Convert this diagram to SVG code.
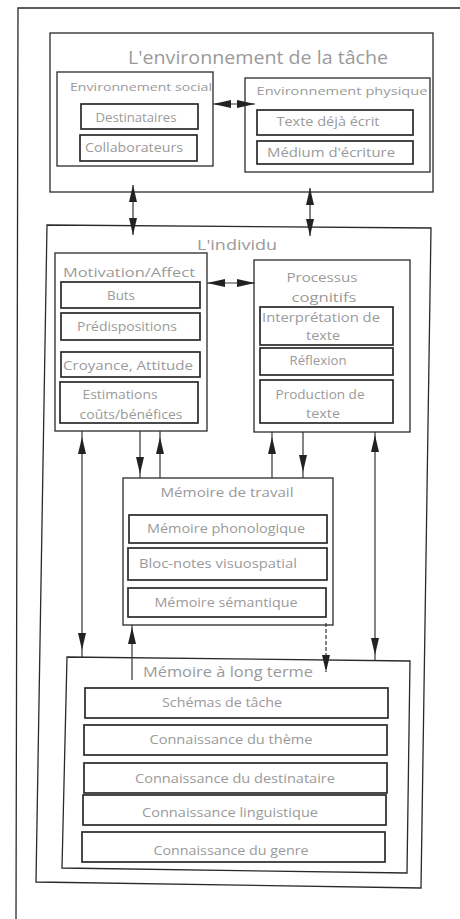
<svg xmlns="http://www.w3.org/2000/svg" xmlns:xlink="http://www.w3.org/1999/xlink" width="460" height="919" viewBox="0 0 460 919">
<style>
.box{fill:none;stroke:#2a2a2a;stroke-width:1.3}
.inner{fill:none;stroke:#2a2a2a;stroke-width:1.7}
.t{font-family:"Open Sans","Liberation Sans",sans-serif;fill:#9a9a9a;text-anchor:middle;font-size:12px}
.s11{font-size:11px}.s13{font-size:13px}.s14{font-size:14px}.s15{font-size:15px}.s18{font-size:18px}
.conn{stroke:#333;stroke-width:1.2;fill:none}
.dash{stroke-dasharray:4 2}
.head{fill:#222}
</style>
<defs>
<path id="up" d="M0,0 L4,17 L-4,17 Z"/>
<path id="dn" d="M0,0 L4,-17 L-4,-17 Z"/>
<path id="lt" d="M0,0 L18,-4 L18,4 Z"/>
<path id="rt" d="M0,0 L-18,-4 L-18,4 Z"/>
</defs>
<rect x="0" y="0" width="460" height="919" fill="#fff"/>
<path d="M460,8 L18,8 L16,919" class="box" stroke-width="1.6"/>

<g id="env-tache">
<rect x="50" y="33" width="383" height="159" class="box"/>
<text x="258" y="64" class="t s18" textLength="260" lengthAdjust="spacingAndGlyphs">L'environnement de la tâche</text>
</g>
<g id="env-social">
<rect x="57" y="72" width="156" height="94" class="box"/>
<text x="141" y="91" class="t s11" textLength="142" lengthAdjust="spacingAndGlyphs">Environnement social</text>
</g>
<g id="destinataires">
<rect x="81" y="104" width="117" height="25" class="inner"/>
<text x="136" y="122" class="t" textLength="81" lengthAdjust="spacingAndGlyphs">Destinataires</text>
</g>
<g id="collaborateurs">
<rect x="80" y="135" width="117" height="26" class="inner"/>
<text x="134" y="152" class="t" textLength="98" lengthAdjust="spacingAndGlyphs">Collaborateurs</text>
</g>
<g id="env-physique">
<rect x="245" y="78" width="185" height="94" class="box"/>
<text x="342" y="95" class="t s11" textLength="171" lengthAdjust="spacingAndGlyphs">Environnement physique</text>
</g>
<g id="texte-deja-ecrit">
<rect x="257" y="110" width="156" height="25" class="inner"/>
<text x="328" y="126" class="t" textLength="103" lengthAdjust="spacingAndGlyphs">Texte déjà écrit</text>
</g>
<g id="medium">
<rect x="257" y="141" width="156" height="23" class="inner"/>
<text x="331" y="157" class="t" textLength="128" lengthAdjust="spacingAndGlyphs">Médium d'écriture</text>
</g>

<g id="individu">
<path d="M47,225 L431,228 L421,888 L36,882 Z" class="box"/>
<text x="237" y="250" class="t s15" textLength="80" lengthAdjust="spacingAndGlyphs">L'individu</text>
</g>
<g id="motivation">
<rect x="55" y="253" width="152" height="178" class="box"/>
<text x="129" y="277" class="t s13" textLength="132" lengthAdjust="spacingAndGlyphs">Motivation/Affect</text>
</g>
<g id="buts">
<rect x="61" y="282" width="139" height="26" class="inner"/>
<text x="121" y="300" class="t" textLength="28" lengthAdjust="spacingAndGlyphs">Buts</text>
</g>
<g id="predispositions">
<rect x="61" y="313" width="139" height="27" class="inner"/>
<text x="127" y="331" class="t" textLength="100" lengthAdjust="spacingAndGlyphs">Prédispositions</text>
</g>
<g id="croyance">
<rect x="61" y="352" width="139" height="25" class="inner"/>
<text x="128" y="370" class="t" textLength="130" lengthAdjust="spacingAndGlyphs">Croyance, Attitude</text>
</g>
<g id="estimations">
<rect x="60" y="382" width="138" height="41" class="inner"/>
<text x="120" y="399" class="t" textLength="75" lengthAdjust="spacingAndGlyphs">Estimations</text>
<text x="131" y="419" class="t" textLength="103" lengthAdjust="spacingAndGlyphs">coûts/bénéfices</text>
</g>
<g id="processus">
<rect x="254" y="260" width="156" height="172" class="box"/>
<text x="322" y="282" class="t s13" textLength="71" lengthAdjust="spacingAndGlyphs">Processus</text>
<text x="324" y="302" class="t s13" textLength="65" lengthAdjust="spacingAndGlyphs">cognitifs</text>
</g>
<g id="interpretation">
<rect x="260" y="307" width="133" height="38" class="inner"/>
<text x="321" y="322" class="t" textLength="118" lengthAdjust="spacingAndGlyphs">Interprétation de</text>
<text x="323" y="340" class="t" textLength="34" lengthAdjust="spacingAndGlyphs">texte</text>
</g>
<g id="reflexion">
<rect x="260" y="348" width="133" height="27" class="inner"/>
<text x="318" y="365" class="t" textLength="57" lengthAdjust="spacingAndGlyphs">Réflexion</text>
</g>
<g id="production">
<rect x="260" y="380" width="133" height="43" class="inner"/>
<text x="320" y="399" class="t" textLength="89" lengthAdjust="spacingAndGlyphs">Production de</text>
<text x="323" y="418" class="t" textLength="34" lengthAdjust="spacingAndGlyphs">texte</text>
</g>

<g id="memoire-travail">
<rect x="123" y="478" width="210" height="147" class="box"/>
<text x="227" y="497" class="t s13" textLength="133" lengthAdjust="spacingAndGlyphs">Mémoire de travail</text>
</g>
<g id="phonologique">
<rect x="129" y="515" width="198" height="28" class="inner"/>
<text x="226" y="533" class="t" textLength="158" lengthAdjust="spacingAndGlyphs">Mémoire phonologique</text>
</g>
<g id="bloc-notes">
<rect x="128" y="548" width="199" height="32" class="inner"/>
<text x="218" y="568" class="t" textLength="158" lengthAdjust="spacingAndGlyphs">Bloc-notes visuospatial</text>
</g>
<g id="semantique">
<rect x="128" y="588" width="198" height="29" class="inner"/>
<text x="226" y="607" class="t" textLength="143" lengthAdjust="spacingAndGlyphs">Mémoire sémantique</text>
</g>

<g id="memoire-long-terme">
<path d="M67,657 L410,661 L407,873 L62,868 Z" class="box"/>
<text x="228" y="677" class="t s14" textLength="170" lengthAdjust="spacingAndGlyphs">Mémoire à long terme</text>
</g>
<g id="schemas">
<rect x="85" y="688" width="303" height="30" class="inner"/>
<text x="222" y="707" class="t s13" textLength="120" lengthAdjust="spacingAndGlyphs">Schémas de tâche</text>
</g>
<g id="theme">
<rect x="84" y="725" width="303" height="30" class="inner"/>
<text x="231" y="744" class="t s13" textLength="163" lengthAdjust="spacingAndGlyphs">Connaissance du thème</text>
</g>
<g id="destinataire">
<rect x="84" y="763" width="303" height="30" class="inner"/>
<text x="235" y="783" class="t s13" textLength="200" lengthAdjust="spacingAndGlyphs">Connaissance du destinataire</text>
</g>
<g id="linguistique">
<rect x="83" y="795" width="303" height="30" class="inner"/>
<text x="230" y="817" class="t s13" textLength="176" lengthAdjust="spacingAndGlyphs">Connaissance linguistique</text>
</g>
<g id="genre">
<rect x="82" y="832" width="303" height="30" class="inner"/>
<text x="231" y="855" class="t s13" textLength="155" lengthAdjust="spacingAndGlyphs">Connaissance du genre</text>
</g>

<g id="connectors">
<line x1="133" y1="185" x2="133" y2="235" class="conn"/>
<use xlink:href="#up" x="133" y="185" class="head"/>
<use xlink:href="#dn" x="133" y="235" class="head"/>
<line x1="310" y1="188" x2="310" y2="236" class="conn"/>
<use xlink:href="#up" x="310" y="188" class="head"/>
<use xlink:href="#dn" x="310" y="236" class="head"/>
<line x1="213" y1="104" x2="255" y2="104" class="conn"/>
<use xlink:href="#lt" x="213" y="104" class="head"/>
<use xlink:href="#rt" x="255" y="104" class="head"/>
<line x1="207" y1="283" x2="255" y2="283" class="conn"/>
<use xlink:href="#lt" x="207" y="283" class="head"/>
<use xlink:href="#rt" x="255" y="283" class="head"/>
<line x1="82" y1="431" x2="82" y2="657" class="conn"/>
<use xlink:href="#up" x="82" y="437" class="head"/>
<use xlink:href="#dn" x="82" y="650" class="head"/>
<line x1="140" y1="431" x2="140" y2="478" class="conn"/>
<use xlink:href="#dn" x="140" y="474" class="head"/>
<line x1="160" y1="431" x2="160" y2="478" class="conn"/>
<use xlink:href="#up" x="160" y="437" class="head"/>
<line x1="272" y1="432" x2="272" y2="478" class="conn"/>
<use xlink:href="#up" x="272" y="437" class="head"/>
<line x1="303" y1="432" x2="303" y2="478" class="conn"/>
<use xlink:href="#dn" x="303" y="472" class="head"/>
<line x1="375" y1="432" x2="375" y2="661" class="conn"/>
<use xlink:href="#up" x="375" y="435" class="head"/>
<use xlink:href="#dn" x="375" y="655" class="head"/>
<line x1="132" y1="625" x2="132" y2="680" class="conn"/>
<use xlink:href="#up" x="132" y="627" class="head"/>
<line x1="326" y1="623" x2="326" y2="672" class="conn dash"/>
<use xlink:href="#dn" x="326" y="672" class="head"/>
</g>
</svg>
